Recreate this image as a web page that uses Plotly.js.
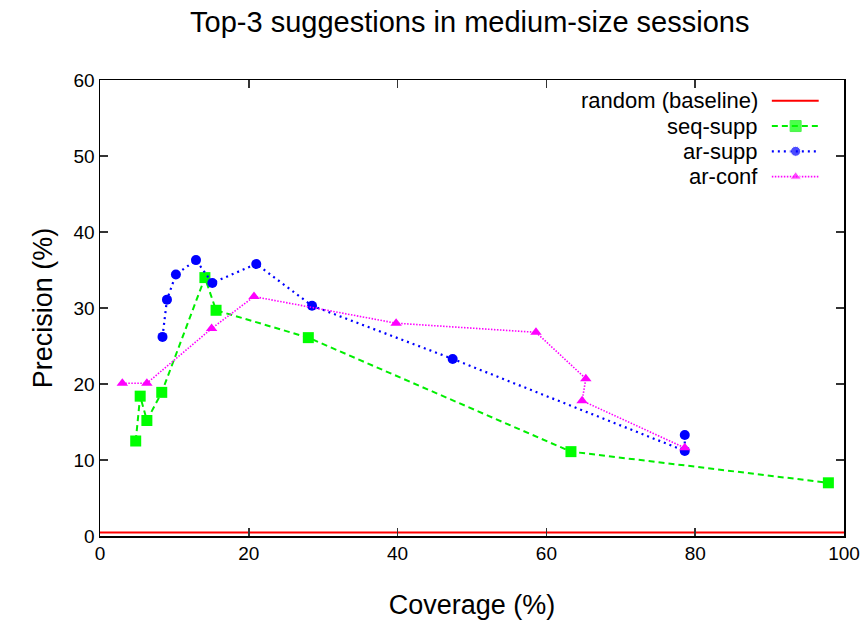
<!DOCTYPE html>
<html>
<head>
<meta charset="utf-8">
<script src="https://cdn.plot.ly/plotly-3.0.1.min.js"></script>
<style>html,body{margin:0;padding:0;background:#fff;}#chart{width:863px;height:624px;}</style>
</head>
<body>
<div id="chart"></div>
<script>
// ---- data ----
const baselineX = [0, 100];
const baselineY = [0.45, 0.45];

const seqSuppX = [4.8, 5.4, 6.3, 8.3, 14.1, 15.6, 28.0, 63.3, 97.9];
const seqSuppY = [12.5, 18.4, 15.2, 18.9, 34.0, 29.7, 26.1, 11.1, 7.0];

const arSuppX = [8.4, 9.0, 10.2, 12.9, 15.1, 21.0, 28.5, 47.4, 78.6, 78.6];
const arSuppY = [26.2, 31.1, 34.4, 36.3, 33.3, 35.8, 30.3, 23.3, 11.2, 13.3];

const arConfX = [3.0, 6.3, 15.0, 20.7, 39.8, 58.6, 65.3, 64.8, 78.6];
const arConfY = [20.1, 20.1, 27.3, 31.5, 28.0, 26.8, 20.7, 17.8, 11.6];

const xTicks = [0, 20, 40, 60, 80, 100];
const yTicks = [0, 10, 20, 30, 40, 50, 60];

const legendNames = ['random (baseline)', 'seq-supp', 'ar-supp', 'ar-conf'];
const legendRows = [0.9546, 0.899, 0.8436, 0.788];

// ---- styles ----
const FONT = 'Liberation Sans, Arial, Helvetica, sans-serif';
const styles = [
  {line: {color: '#ff0000', width: 2, dash: 'solid'}, marker: null},
  {line: {color: '#00ee00', width: 2, dash: '6px,4px'}, marker: {symbol: 'square', size: 11, color: '#00ff00'}},
  {line: {color: '#0000ff', width: 2.2, dash: '2px,4px'}, marker: {symbol: 'circle', size: 10, color: '#0000ff'}},
  {line: {color: '#ff00ff', width: 1.6, dash: '1.5px,1.5px'}, marker: {symbol: 'triangle-up', size: 10, color: '#ff00ff'}}
];

const series = [
  [baselineX, baselineY],
  [seqSuppX, seqSuppY],
  [arSuppX, arSuppY],
  [arConfX, arConfY]
];

const traces = [];
series.forEach((s, i) => {
  const t = {
    x: s[0], y: s[1], name: legendNames[i], type: 'scatter',
    mode: styles[i].marker ? 'lines+markers' : 'lines',
    line: styles[i].line, showlegend: false
  };
  if (styles[i].marker) t.marker = styles[i].marker;
  traces.push(t);
});

// custom legend (sample on the right of the text, gnuplot style)
const sampleX = [0.903, 0.935, 0.966];
legendNames.forEach((n, i) => {
  const st = styles[i];
  const t = {
    x: sampleX, y: [legendRows[i], legendRows[i], legendRows[i]],
    xaxis: 'x2', yaxis: 'y2', type: 'scatter',
    mode: st.marker ? 'lines+markers' : 'lines',
    line: st.line, showlegend: false
  };
  if (st.marker) t.marker = Object.assign({}, st.marker, {size: [0, st.marker.size, 0]});
  traces.push(t);
});

const annotations = legendNames.map((n, i) => ({
  text: n, xref: 'paper', yref: 'paper', x: 0.887, y: legendRows[i],
  xanchor: 'right', yanchor: 'middle', showarrow: false,
  font: {family: FONT, size: 22, color: '#000'}
}));

const layout = {
  width: 863, height: 624,
  margin: {l: 100, r: 19, t: 80, b: 88},
  paper_bgcolor: '#fff', plot_bgcolor: '#fff',
  font: {family: FONT, color: '#000'},
  title: {text: 'Top-3 suggestions in medium-size sessions', font: {family: FONT, size: 29, color: '#000'},
          x: 0.497, xref: 'paper', xanchor: 'center', y: 1 - 22/624, yanchor: 'middle', yref: 'container'},
  xaxis: {
    range: [0, 100], tickvals: xTicks, ticktext: xTicks.map(String),
    ticks: 'inside', ticklen: 8, tickwidth: 1.5, tickcolor: '#333',
    showline: true, linecolor: '#000', linewidth: 1.5, mirror: 'ticks',
    showgrid: false, zeroline: false,
    tickfont: {family: FONT, size: 19, color: '#000'},
    title: {text: 'Coverage (%)', font: {family: FONT, size: 27, color: '#000'}, standoff: 32}
  },
  yaxis: {
    range: [0, 60], tickvals: yTicks, ticktext: yTicks.map(String),
    ticks: 'inside', ticklen: 8, tickwidth: 1.5, tickcolor: '#333',
    showline: true, linecolor: '#000', linewidth: 1.5, mirror: 'ticks',
    showgrid: false, zeroline: false,
    tickfont: {family: FONT, size: 19, color: '#000'},
    title: {text: 'Precision (%)', font: {family: FONT, size: 27, color: '#000'}, standoff: 13}
  },
  xaxis2: {overlaying: 'x', range: [0, 1], visible: false},
  yaxis2: {overlaying: 'y', range: [0, 1], visible: false},
  annotations: annotations,
  showlegend: false
};

Plotly.newPlot('chart', traces, layout, {displayModeBar: false, staticPlot: true});
</script>
</body>
</html>
